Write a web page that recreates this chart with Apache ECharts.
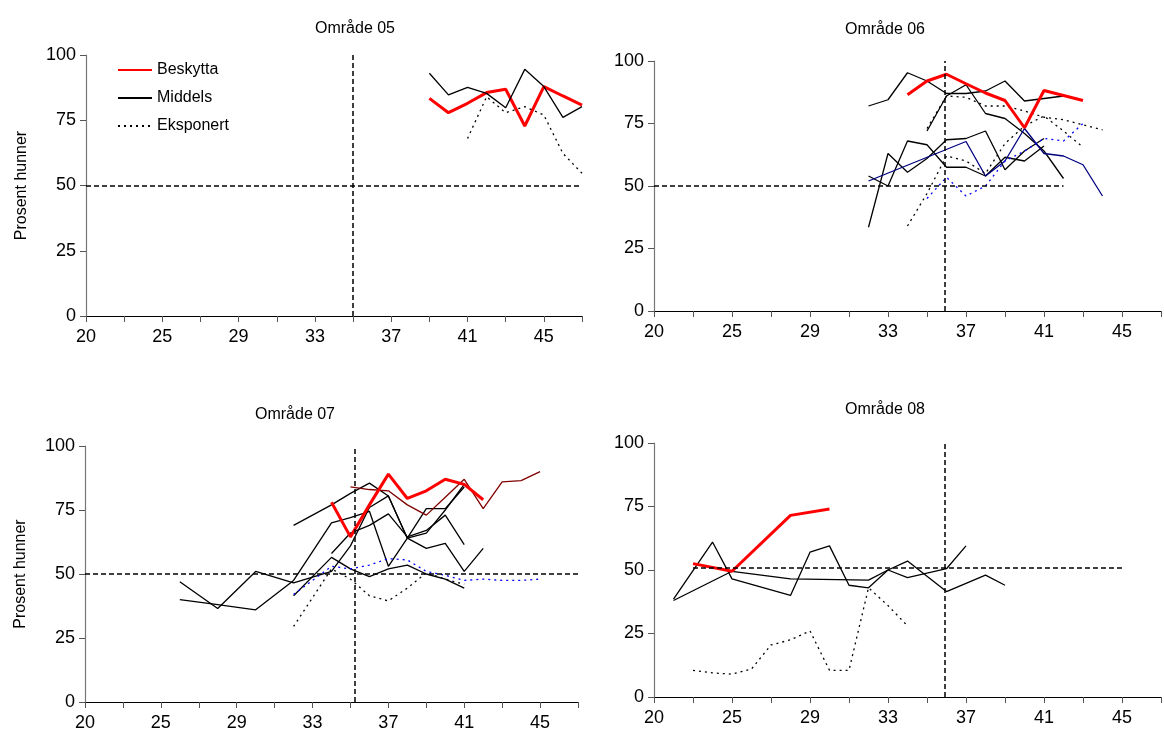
<!DOCTYPE html>
<html>
<head>
<meta charset="utf-8">
<script src="https://cdn.jsdelivr.net/npm/echarts@6/dist/echarts.min.js"></script>
<style>
html, body { margin: 0; padding: 0; background: #fff; }
#main { width: 1164px; height: 747px; }
</style>
</head>
<body>
<div id="main"></div>
<script>
// uke -> verdi (prosent hunner)
var titles = ['Område 05', 'Område 06', 'Område 07', 'Område 08'];
var yTicks = [0, 25, 50, 75, 100];

// Område 05
var p1Red = [[39, 83.4], [40, 77.9], [41, 81.5], [42, 85.6], [43, 86.9], [44, 72.8], [45, 87.9], [46, 84.3], [47, 80.8]];
var p1Black = [[39, 93], [40, 84.7], [41, 87.6], [42, 85.3], [43, 79.8], [44, 94.5], [45, 87.9], [46, 76.1], [47, 80.2]];
var p1Dot = [[41, 68], [42, 84], [43, 77.9], [44, 80.2], [45, 77], [46, 62.3], [47, 54.7]];

// Område 06
var p2Red = [[34, 86.5], [35, 92], [36, 94.7], [37, 90.9], [38, 87.2], [39, 84.2], [40, 73.3], [41, 88.2], [42, 86.2], [43, 84.2]];
var p2BlackA = [[32, 82], [33, 84.5], [34, 95.3], [35, 92], [36, 87], [37, 87], [38, 88], [39, 92], [40, 84], [41, 85], [42, 86]];
var p2BlackB = [[35, 72], [36, 86], [37, 90.5], [38, 79], [39, 77], [40, 71], [41, 64], [42, 53]];
var p2BlackC = [[32, 54], [33, 50], [34, 68], [35, 66.5], [36, 57.5], [37, 57.5], [38, 54], [39, 61.5], [40, 60], [41, 66]];
var p2BlackD = [[32, 33.5], [33, 63], [34, 55.5], [35, 61], [36, 68.5], [37, 69], [38, 72], [39, 56.5], [40, 64], [41, 69]];
var p2Navy = [[32, 52], [37, 67.8], [38, 54], [39, 60], [40, 73], [41, 63], [42, 62], [43, 58.5], [44, 46]];
var p2DotE = [[35, 73], [36, 86], [37, 85.5], [38, 82], [39, 82], [40, 80], [41, 77.5], [42, 76.5], [43, 74.5], [44, 72.5]];
var p2DotF = [[34, 34], [35, 47], [36, 62], [37, 60], [38, 55], [39, 67], [40, 74], [41, 78], [42, 72], [43, 65.5]];
var p2BlueDot = [[35, 45], [36, 53.5], [37, 46], [38, 50], [39, 60], [40, 64], [41, 69], [42, 68], [43, 75]];

// Område 07
var p3Red = [[34, 78], [35, 64.5], [36, 77], [37, 89], [38, 79.5], [39, 82.5], [40, 87], [41, 85], [42, 79]];
var p3DarkRed = [[35, 84], [36, 83], [37, 82.5], [38, 77], [39, 73], [40, 80], [41, 87], [42, 75.5], [43, 86], [44, 86.5], [45, 90]];
var p3Black1 = [[26, 47], [28, 36.5], [30, 51], [32, 46.5], [34, 51], [35, 61], [36, 76], [37, 80.5], [38, 64], [39, 66], [40, 75], [41, 85]];
var p3Black2 = [[26, 40], [28, 38], [30, 36], [32, 47.5], [34, 70], [35, 72], [36, 74.5], [37, 53], [38, 64], [39, 75.5], [40, 75.5], [41, 84]];
var p3Black3 = [[32, 69], [34, 77], [35, 81.5], [36, 85.5], [37, 80.5], [38, 64], [39, 60], [40, 62], [41, 51], [42, 60]];
var p3Black4 = [[32, 41.5], [34, 56.5], [35, 52], [36, 49], [37, 52], [38, 53.5], [39, 50], [40, 48], [41, 44.5]];
var p3Black5 = [[34, 58], [35, 66], [36, 69], [37, 73.5], [38, 64.5], [39, 67], [40, 73], [41, 61.5]];
var p3Dot = [[32, 29.5], [34, 52], [35, 48], [36, 41.5], [37, 39.5], [38, 44.5], [39, 50.5], [40, 48], [41, 46]];
var p3BlueDot = [[32, 42], [34, 53], [35, 52], [36, 53.5], [37, 56], [38, 55.5], [39, 51], [40, 49.5], [41, 47.5], [42, 48], [43, 47.5], [44, 47.5], [45, 48]];

// Område 08
var p4Red = [[23, 52.5], [25, 49.5], [28, 71.5], [30, 74]];
var p4Black1 = [[22, 38.5], [24, 61], [25, 46.5], [28, 40], [29, 57], [30, 59.5], [31, 44], [32, 43], [33, 50], [34, 53.5], [36, 41.5], [38, 48], [39, 44]];
var p4Black2 = [[22, 38], [25, 49.5], [28, 46.5], [32, 46], [33, 50], [34, 47], [36, 50.5], [37, 59.5]];
var p4Dot = [[23, 10.5], [24, 9.5], [25, 9], [26, 11], [27, 20.5], [28, 22.5], [29, 26], [30, 10.5], [31, 10.5], [32, 43], [33, 36], [34, 28]];

// referanselinjer: [x vertikal, y horisontal, x fra, x til]
var refLines = [[35, 50, 21, 47], [35.9, 50, 21, 42], [35.2, 50, 21, 47], [35.9, 51, 23, 45]];

var grids = [
    { left: 86, top: 55, width: 496, height: 261 },
    { left: 654, top: 61, width: 513, height: 250 },
    { left: 85, top: 446, width: 493, height: 256 },
    { left: 654, top: 443, width: 513, height: 254 }
];
var titlePos = [[350, 16], [880, 17], [290, 402], [880, 397]];

var red = { color: '#ff0000', width: 3 };
var black = { color: '#000', width: 1.3 };
var dot = { color: '#000', width: 1.3, type: [2, 4] };
var navy = { color: '#000080', width: 1.3 };
var blueDot = { color: '#0000ff', width: 1.3, type: [2, 4] };
var darkRed = { color: '#800000', width: 1.3 };

var series = [];
function addLine(g, data, style, name) {
    var s = {
        type: 'line', xAxisIndex: g, yAxisIndex: g, data: data,
        showSymbol: false, symbol: 'none', lineStyle: style, itemStyle: { color: style.color },
        silent: true, z: 3
    };
    if (name) s.name = name;
    series.push(s);
}
addLine(0, p1Red, red, 'Beskytta');
addLine(0, p1Black, black, 'Middels');
addLine(0, p1Dot, dot, 'Eksponert');

addLine(1, p2BlackA, black); addLine(1, p2BlackB, black); addLine(1, p2BlackC, black); addLine(1, p2BlackD, black);
addLine(1, p2Navy, navy); addLine(1, p2DotE, dot); addLine(1, p2DotF, dot); addLine(1, p2BlueDot, blueDot);
addLine(1, p2Red, red);

addLine(2, p3Black1, black); addLine(2, p3Black2, black); addLine(2, p3Black3, black); addLine(2, p3Black4, black);
addLine(2, p3Black5, black); addLine(2, p3Dot, dot); addLine(2, p3BlueDot, blueDot); addLine(2, p3DarkRed, darkRed);
addLine(2, p3Red, red);

addLine(3, p4Black1, black); addLine(3, p4Black2, black); addLine(3, p4Dot, dot); addLine(3, p4Red, red);

// stiplede referanselinjer
refLines.forEach(function (r, g) {
    series.push({
        type: 'line', xAxisIndex: g, yAxisIndex: g, data: [], silent: true,
        markLine: {
            symbol: 'none', silent: true, label: { show: false },
            lineStyle: { color: '#000', width: 1.5, type: [5, 3] },
            data: [
                [{ coord: [r[0], 0] }, { coord: [r[0], 100] }],
                [{ coord: [r[2], r[1]] }, { coord: [r[3], r[1]] }]
            ]
        }
    });
});

var xAxes = [], yAxes = [], titleArr = [];
grids.forEach(function (g, i) {
    xAxes.push({
        type: 'value', gridIndex: i, min: 21, max: 47, interval: 2,
        axisLine: { onZero: false, lineStyle: { color: '#000', width: 1.2 } },
        axisTick: { show: true, length: 6, lineStyle: { color: '#555' } },
        splitLine: { show: false },
        axisLabel: {
            color: '#000', fontSize: 18, margin: 12, fontFamily: 'Liberation Sans',
            formatter: function (v) {
                if (v == 21) return '20';
                return (v - 21) % 4 == 0 && v < 47 ? String(v) : '';
            }
        }
    });
    yAxes.push({
        type: 'value', gridIndex: i, min: yTicks[0], max: yTicks[yTicks.length - 1], interval: 25,
        name: i % 2 == 0 ? 'Prosent hunner' : '', nameLocation: 'middle', nameGap: 56,
        nameTextStyle: { color: '#000', fontSize: 16, fontFamily: 'Liberation Sans' },
        axisLine: { show: true, lineStyle: { color: '#777', width: 1.2 } },
        axisTick: { show: true, length: 6, lineStyle: { color: '#555' } },
        splitLine: { show: false },
        axisLabel: { color: '#000', fontSize: 18, margin: 10, fontFamily: 'Liberation Sans' }
    });
    titleArr.push({
        text: titles[i], left: titlePos[i][0], top: titlePos[i][1], textAlign: 'center',
        textStyle: { color: '#000', fontSize: 16, fontWeight: 'normal', fontFamily: 'Liberation Sans' }
    });
});

var myChart = echarts.init(document.getElementById('main'));
myChart.setOption({
    animation: false,
    title: titleArr,
    grid: grids,
    xAxis: xAxes,
    yAxis: yAxes,
    legend: {
        data: ['Beskytta', 'Middels', 'Eksponert'],
        orient: 'vertical', left: 112, top: 57, itemGap: 12, itemWidth: 34, itemHeight: 14,
        itemStyle: { opacity: 0 },
        textStyle: { color: '#000', fontSize: 16, fontFamily: 'Liberation Sans' },
        selectedMode: false
    },
    series: series
});
</script>
</body>
</html>
